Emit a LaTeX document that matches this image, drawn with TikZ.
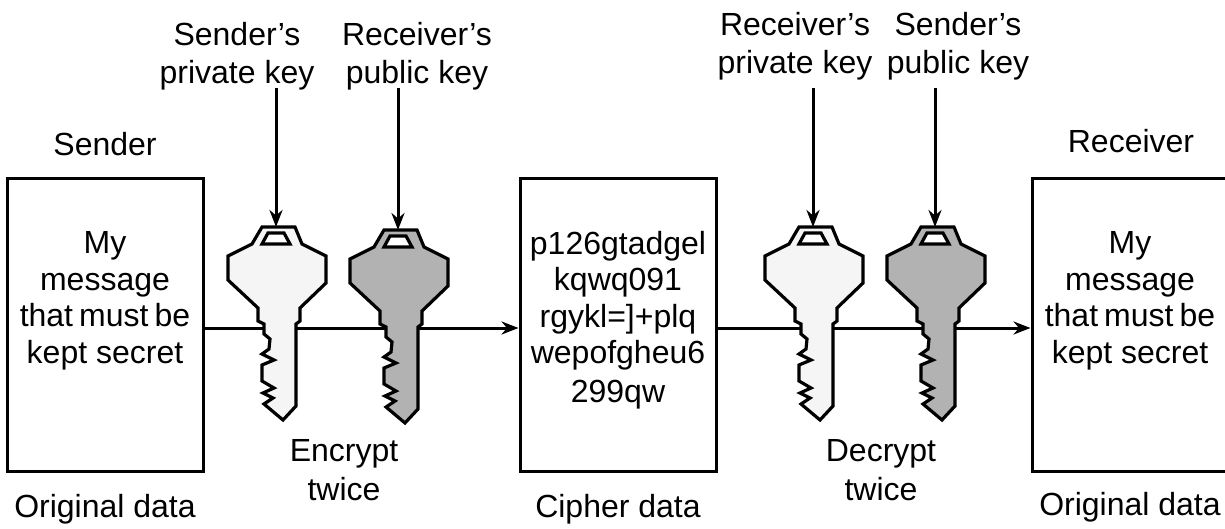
\documentclass[tikz,border=0pt]{standalone}
\usepackage{fontspec}
\setmainfont{Liberation Sans}
\usetikzlibrary{arrows.meta,positioning}

% key outline, drawn from the middle of its top edge
\newcommand{\keyshape}[3]{
  \draw[keyline,fill=#3] (#1,#2) ++(-14,0) -- ++(-10,17) -- ++(-24,12) -- ++(0,24)
    -- ++(30,28) -- ++(0,13) -- ++(6,3) -- ++(0,10) -- ++(6,5) -- ++(-1,10) -- ++(-7,5)
    -- ++(12,6) -- ++(-12,5) -- ++(0,16) -- ++(12,7) -- ++(-11,5) -- ++(10,5) -- ++(-9,6)
    -- ++(19,16) -- ++(13,-14) -- ++(0,-82) -- ++(4,-3) -- ++(0,-13) -- ++(26,-25)
    -- ++(0,-27) -- ++(-24,-12) -- ++(-7,-17) -- cycle;
  \draw[keyline,fill=white] (#1,#2) ++(-14,17) -- ++(6,-11) -- ++(16,0) -- ++(6,11) -- cycle;
}
% tight word space for the line in the outer boxes
\newcommand{\tightline}{\spaceskip=0.19em\relax that must be}

\begin{document}
\begin{tikzpicture}[x=1pt,y=-1pt,>={Stealth[length=17pt,width=13pt]}]
  \tikzstyle{keyline}=[draw=black,line width=3.2pt,line join=miter]
  \tikzstyle{databox}=[draw=black,line width=3pt,fill=white,minimum width=196pt,
                       minimum height=293pt,inner sep=0pt,align=center,
                       font=\fontsize{32}{36.5}\selectfont]
  \tikzstyle{label}=[align=center,inner sep=0pt,font=\fontsize{32}{38.5}\selectfont]
  \tikzstyle{flow}=[->,line width=3pt]
  \useasboundingbox (0,0) rectangle (1225,529);

  \node[databox] (sender)   at (105,325)  {My\\message\\\tightline\\kept secret\\[19pt]};
  \node[databox] (cipher)   at (618,325)  {p126gtadgel\\kqwq091\\rgykl=]+plq\\wepofgheu6\\[2pt]299qw\\[-20pt]};
  \node[databox] (receiver) at (1130,325) {My\\message\\\tightline\\kept secret\\[19pt]};

  \node[label] (sendername)   at (105,144)  {Sender};
  \node[label] (receivername) at (1131,141) {Receiver};
  \node[label] (plainleft)    at (105,509)  {Original data};
  \node[label] (cipherdata)   at (618,509)  {Cipher data};
  \node[label] (plainright)   at (1130,507) {Original data};
  \node[label] (encrypt)      at (344,470)  {Encrypt\\twice};
  \node[label] (decrypt)      at (881,470)  {Decrypt\\twice};
  \node[label] (sendpriv)     at (237,56)   {Sender's\\private key};
  \node[label] (recvpub)      at (417,56)   {Receiver's\\public key};
  \node[label] (recvpriv)     at (795,46)   {Receiver's\\private key};
  \node[label] (sendpub)      at (958,46)   {Sender's\\public key};

  \coordinate (keya) at (276,227);
  \coordinate (keyb) at (398,230);
  \coordinate (keyc) at (813,227);
  \coordinate (keyd) at (935,227);
  \coordinate (lefta) at (276,88);
  \coordinate (leftb) at (398,88);
  \coordinate (leftc) at (813,88);
  \coordinate (leftd) at (935,88);

  \draw[flow] (sender.east |- 0,328) -- (cipher.west |- 0,328);
  \draw[flow] (cipher.east |- 0,328) -- (receiver.west |- 0,328);

  \keyshape{276}{227}{black!4}
  \keyshape{398}{230}{black!30}
  \keyshape{813}{227}{black!4}
  \keyshape{935}{227}{black!30}

  \draw[flow] (lefta) -- (keya);
  \draw[flow] (leftb) -- (keyb);
  \draw[flow] (leftc) -- (keyc);
  \draw[flow] (leftd) -- (keyd);
\end{tikzpicture}
\end{document}
